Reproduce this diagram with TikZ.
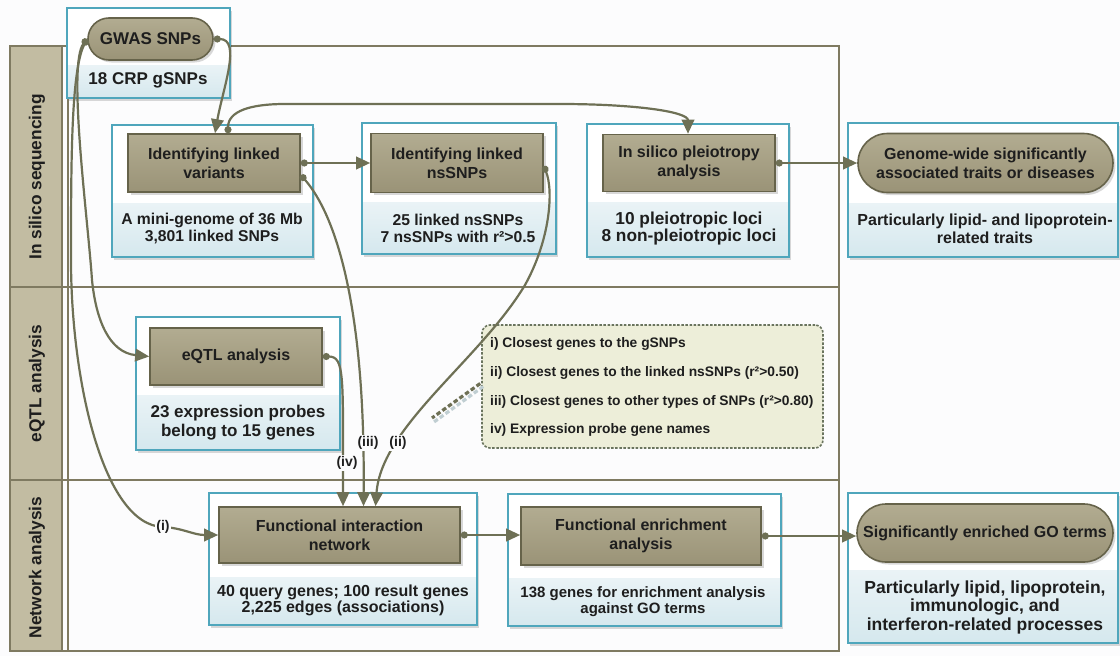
\documentclass[tikz,border=0pt]{standalone}
\usepackage{fontspec}
\setmainfont{Liberation Sans}
\usetikzlibrary{arrows.meta,shapes.misc,shadows,calc}
\definecolor{tanT}{HTML}{B2AC91}
\definecolor{tanD}{HTML}{9A9377}
\definecolor{tanB}{HTML}{66634A}
\definecolor{lc}{HTML}{6E7055}
\definecolor{cy}{HTML}{4FA6BC}
\definecolor{bandT}{HTML}{EAF3F6}
\definecolor{bandB}{HTML}{D5E8EE}
\definecolor{fr}{HTML}{7F7A61}
\definecolor{labf}{HTML}{C2BCA2}
\definecolor{legf}{HTML}{EDEED9}
\definecolor{legb}{HTML}{6A745E}
\definecolor{txt}{HTML}{1E1E1E}
\definecolor{bg}{HTML}{FCFCFD}
\newcommand\myfs[2]{\bfseries\fontsize{#1}{#2}\selectfont}
\newcommand\obox[5]{%
  \fill[black, opacity=.15] (#1+2,#2+2.5) rectangle (#3+2,#4+2.5);
  \fill[white] (#1,#2) rectangle (#3,#4);
  \shade[top color=bandT, bottom color=bandB] (#1,#5) rectangle (#3,#4);
  \draw[cy, line width=1.6pt] (#1,#2) rectangle (#3,#4);}
\begin{document}
\begin{tikzpicture}[x=1pt,y=-1pt,
  proc/.style={draw=tanB, line width=1.6pt, top color=tanT, bottom color=tanD, text=txt, align=center, inner sep=0pt, drop shadow={shadow xshift=2.5pt, shadow yshift=-2.5pt, opacity=.3}},
  pill/.style={proc, rounded rectangle},
  sub/.style={text=txt, align=center, inner sep=0pt},
  conn/.style={draw=lc, line width=2.2pt, {Circle[length=7pt]}-{Triangle[length=14pt,width=12.5pt]}},
  tag/.style={fill=bg, inner sep=1pt, text=txt, font=\myfs{14}{16}},
  frame/.style={draw=fr, line width=1.8pt},
  legtxt/.style={anchor=west, text=txt, inner sep=0pt, font=\myfs{13.8}{16}},
  lane/.style={rotate=90, text=txt, inner sep=0pt, font=\myfs{17.3}{20}},
]
\useasboundingbox (0,0) rectangle (1120,656);
\fill[bg] (0,0) rectangle (1120,656);

% frame and lanes
\draw[frame] (10,46) rectangle (839,651);
\draw[frame] (10,287) -- (839,287);
\draw[frame] (10,480) -- (839,480);
\draw[frame] (68,46) -- (68,651);
\draw[frame, fill=labf] (10,46) rectangle (62,287);
\draw[frame, fill=labf] (10,287) rectangle (62,480);
\draw[frame, fill=labf] (10,480) rectangle (62,651);
\node[lane] (lane1) at (37,177) {In silico sequencing};
\node[lane] (lane2) at (37,383.5) {eQTL analysis};
\node[lane] (lane3) at (37,567.5) {Network analysis};

% outer boxes
\obox{67}{8}{230}{98}{65}
\obox{112}{125}{313}{257}{203}
\obox{362}{123}{556}{254}{202}
\obox{587}{124}{789}{257}{202}
\obox{848}{123}{1118}{257}{203}
\obox{136}{317}{340}{450}{395}
\obox{209}{493}{477}{625}{577}
\obox{508}{494}{781}{626}{578}
\obox{848}{493}{1118}{643}{570}

% process nodes
\node[pill, minimum width=125pt, minimum height=42pt, font=\myfs{17}{20}] (gwas) at (150.5,39) {GWAS SNPs};
\node[sub, font=\myfs{17}{20}] (gwasT) at (148,80) {18 CRP gSNPs};

\node[proc, minimum width=172pt, minimum height=58pt, font=\myfs{16}{19}] (var) at (214,163) {Identifying linked\\variants};
\node[sub, font=\myfs{15.7}{17.5}] (varT) at (212,228.5) {A mini-genome of 36 Mb\\3,801 linked SNPs};

\node[proc, minimum width=172pt, minimum height=59pt, font=\myfs{16}{19}] (ns) at (457,163) {Identifying linked\\nsSNPs};
\node[sub, font=\myfs{15.7}{17.5}] (nsT) at (458,228.5) {25 linked nsSNPs\\7 nsSNPs with r²>0.5};

\node[proc, minimum width=172pt, minimum height=57pt, font=\myfs{16}{19}] (pl) at (689,163) {In silico pleiotropy\\analysis};
\node[sub, font=\myfs{17.3}{17.5}] (plT) at (689,228.5) {10 pleiotropic loci\\8 non-pleiotropic loci};

\node[pill, minimum width=255pt, minimum height=59pt, font=\myfs{16}{19}] (gw) at (985.5,163) {Genome-wide significantly\\associated traits or diseases};
\node[sub, font=\myfs{16}{18}] (gwT) at (985,229) {Particularly lipid- and lipoprotein-\\related traits};

\node[proc, minimum width=172pt, minimum height=57pt, font=\myfs{16}{19}] (eq) at (236,356.5) {eQTL analysis};
\node[sub, font=\myfs{17}{19}] (eqT) at (238,422.5) {23 expression probes\\belong to 15 genes};

\node[proc, minimum width=241pt, minimum height=56pt, font=\myfs{16}{19}] (fin) at (339.5,535) {Functional interaction\\network};
\node[sub, font=\myfs{16}{15.5}] (finT) at (343,600.5) {40 query genes; 100 result genes\\2,225 edges (associations)};

\node[proc, minimum width=240pt, minimum height=58pt, font=\myfs{16}{19}] (en) at (641,536) {Functional enrichment\\analysis};
\node[sub, font=\myfs{15}{16}] (enT) at (643,602) {138 genes for enrichment analysis\\against GO terms};

\node[pill, minimum width=256pt, minimum height=58pt, font=\myfs{16}{19}] (go) at (985,533) {Significantly enriched GO terms};
\node[sub, font=\myfs{17.5}{18.5}] (goT) at (985,607) {Particularly lipid, lipoprotein,\\immunologic, and\\interferon-related processes};

% legend
\node[draw=legb, fill=legf, line width=1.6pt, dash pattern=on 2.5pt off 1.6pt, rounded corners=8pt, minimum width=341pt, minimum height=123pt, inner sep=0pt] (leg) at (652.5,386.5) {};
\node[legtxt] (l1) at (490,344) {i) Closest genes to the gSNPs};
\node[legtxt] (l2) at (490,373) {ii) Closest genes to the linked nsSNPs (r²>0.50)};
\node[legtxt] (l3) at (490,402) {iii) Closest genes to other types of SNPs (r²>0.80)};
\node[legtxt] (l4) at (490,430) {iv) Expression probe gene names};
\coordinate (lend) at (432,418);
\draw[line width=3.2pt, dash pattern=on 4.5pt off 2.5pt, color=bandB!75!gray] ($(leg.west)+(2,0)$) -- ($(lend)+(2,4)$);
\draw[line width=3.2pt, dash pattern=on 4.5pt off 2.5pt, color=lc] ($(leg.west)+(-1,-3)$) -- (lend);

% connectors
\draw[conn] (gwas.east) .. controls +(28,0) and +(8,-45) .. ([xshift=1pt]var.north);
\draw[conn] ([xshift=14pt]var.north) .. controls +(0,-22) and +(-35,0) .. (285,104) -- (560,104) .. controls +(75,0) and +(0,-22) .. ([xshift=-1pt]pl.north);
\draw[conn] (var.east) -- (var.east -| ns.west);
\draw[conn] (pl.east) -- (pl.east -| gw.west);
\draw[conn] (gwas.west) .. controls +(-20,25) and +(-4,-60) .. (92,280) .. controls +(4,40) and +(-40,-4) .. (eq.west);
\draw[conn] (gwas.west) .. controls +(-16,30) and +(0,-100) .. (71,260) .. controls +(0,120) and +(-60,-2) .. (163,527) .. controls +(20,1) and +(-25,0) .. (fin.west);
\draw[conn] ([yshift=-12pt]var.east) .. controls +(35,40) and +(2,-200) .. ([xshift=24pt]fin.north);
\draw[conn] ([yshift=-3pt]ns.east) .. controls +(10,25) and +(25,-45) .. (525,285) .. controls +(-45,75) and +(6,-80) .. ([xshift=36pt]fin.north);
\draw[conn] (eq.east) .. controls +(22,0) and +(0,-130) .. ([xshift=3.5pt]fin.north);
\draw[conn] (fin.east) -- (fin.east -| en.west);
\draw[conn] (en.east) -- (en.east -| go.west);

% tags
\node[tag] (ti) at (163,527) {(i)};
\node[tag] (tii) at (398,443) {(ii)};
\node[tag] (tiii) at (368,443) {(iii)};
\node[tag] (tiv) at (347,463) {(iv)};
\end{tikzpicture}
\end{document}
